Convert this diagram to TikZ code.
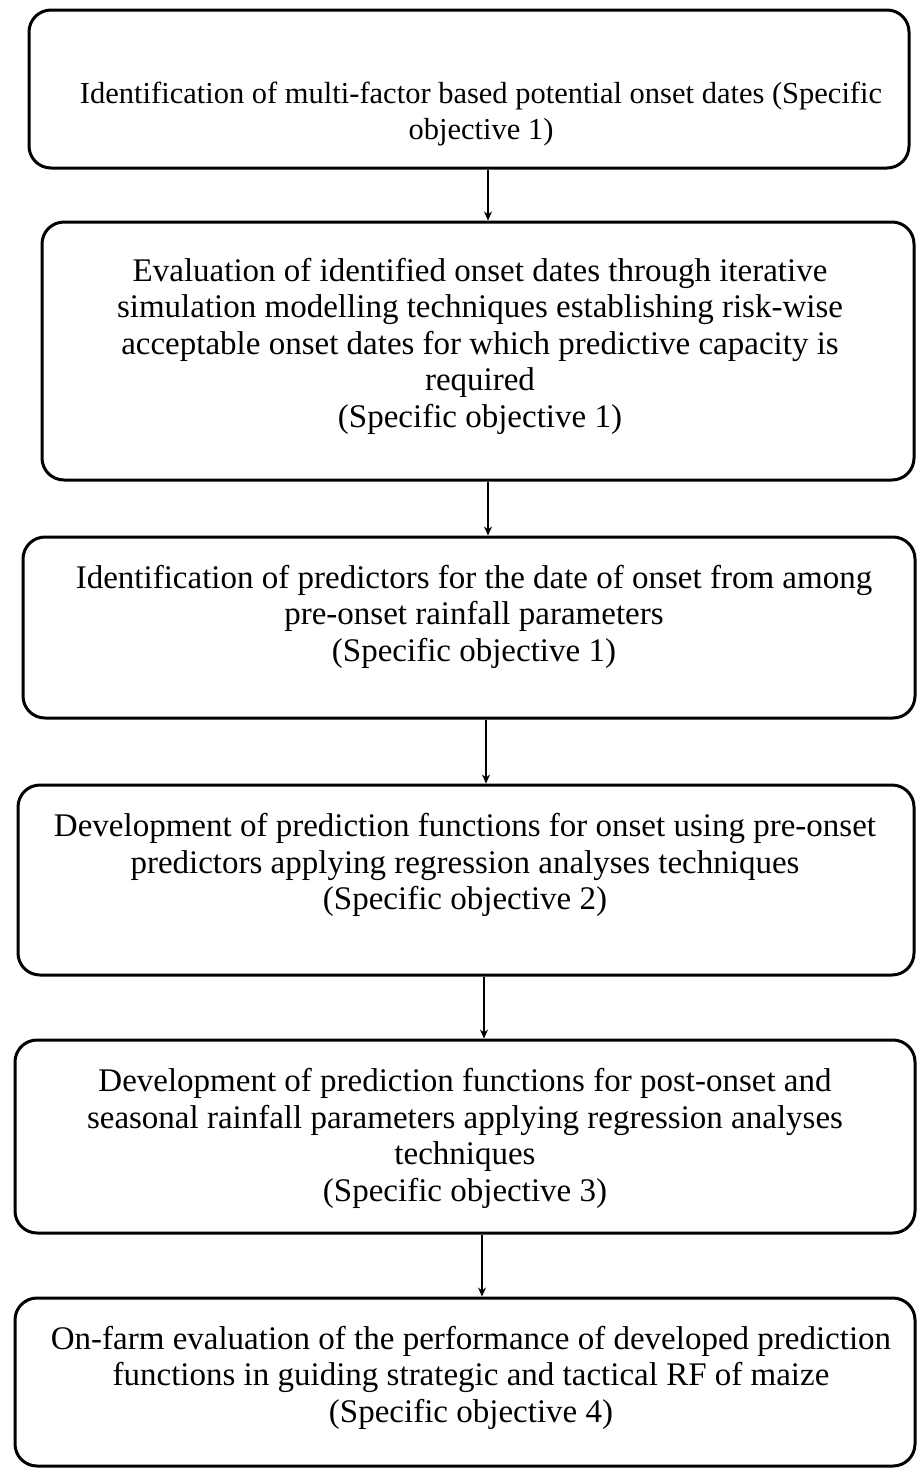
\documentclass[tikz,border=0pt]{standalone}
\usepackage{fontspec}
\setmainfont{Liberation Serif}
\usetikzlibrary{arrows.meta}
\begin{document}
\begin{tikzpicture}[x=1pt,y=-1pt,
  box/.style={draw=black, line width=3pt, rounded corners=22pt, inner sep=0pt},
  txt/.style={align=center, font=\fontsize{33}{36.5}\selectfont, inner sep=0pt},
  arr/.style={line width=1.6pt, -{Stealth[length=9pt,width=8pt]}}]
\useasboundingbox (0,0) rectangle (917,1470);
% boxes
\node[box, minimum width=880pt, minimum height=158pt] (b1) at (469,89) {};
\node[box, minimum width=872pt, minimum height=258pt] (b2) at (478,351) {};
\node[box, minimum width=892pt, minimum height=181pt] (b3) at (469,627.5) {};
\node[box, minimum width=896pt, minimum height=190pt] (b4) at (466,880) {};
\node[box, minimum width=900pt, minimum height=193pt] (b5) at (465,1136.5) {};
\node[box, minimum width=900pt, minimum height=168pt] (b6) at (465,1382) {};
% texts
\node[txt, font=\fontsize{30.5}{35.5}\selectfont] (t1) at (481,114) {Identification of multi-factor based potential onset dates (Specific\\objective 1)};
\node[txt] (t2) at (480,346) {Evaluation of identified onset dates through iterative\\simulation modelling techniques establishing risk-wise\\acceptable onset dates for which predictive capacity is\\required\\(Specific objective 1)};
\node[txt] (t3) at (474,616.5) {Identification of predictors for the date of onset from among\\pre-onset rainfall parameters\\(Specific objective 1)};
\node[txt] (t4) at (465,865) {Development of prediction functions for onset using pre-onset\\predictors applying regression analyses techniques\\(Specific objective 2)};
\node[txt] (t5) at (465,1138.5) {Development of prediction functions for post-onset and\\seasonal rainfall parameters applying regression analyses\\techniques\\(Specific objective 3)};
\node[txt] (t6) at (471,1377.5) {On-farm evaluation of the performance of developed prediction\\functions in guiding strategic and tactical RF of maize\\(Specific objective 4)};
% arrow x positions
\coordinate (x1) at (488,0);
\coordinate (x2) at (488,0);
\coordinate (x3) at (486,0);
\coordinate (x4) at (484,0);
\coordinate (x5) at (482,0);
\draw[arr] (b1.south -| x1) -- (b2.north -| x1);
\draw[arr] (b2.south -| x2) -- (b3.north -| x2);
\draw[arr] (b3.south -| x3) -- (b4.north -| x3);
\draw[arr] (b4.south -| x4) -- (b5.north -| x4);
\draw[arr] (b5.south -| x5) -- (b6.north -| x5);
\end{tikzpicture}
\end{document}
